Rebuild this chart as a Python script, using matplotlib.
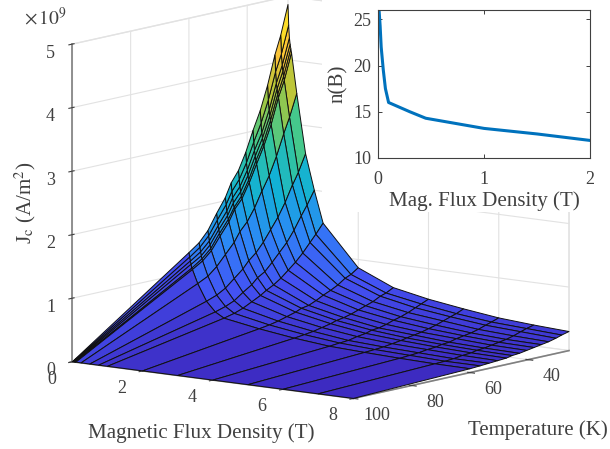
import numpy as np
import matplotlib
matplotlib.use('Agg')
import matplotlib.pyplot as plt
from matplotlib.colors import LinearSegmentedColormap, Normalize
from matplotlib.patches import Rectangle

plt.rcParams['font.family'] = ['Liberation Serif', 'DejaVu Serif']
plt.rcParams['mathtext.fontset'] = 'stix'

# field and temperature grid of the surface
mag_field = [0, 0.02, 0.04, 0.06, 0.08, 0.1, 0.25, 0.5, 0.75, 1, 2, 3, 4, 5, 6, 7, 8]
temperature = [26, 28.5, 30.5, 33, 35.5, 38, 40.5, 43, 45.5, 47.5, 50.5, 53.5, 56.5, 60, 100]
field_ticks = [0, 2, 4, 6, 8]
temp_ticks = [40, 60, 80, 100]
jc_ticks = [0, 1, 2, 3, 4, 5]

# Jc in units of 1e9 A/m2, one row per temperature
jc_t26 = [4.87, 4.55, 4.35, 4.25, 4.18, 4.12, 3.49, 2.56, 2.00, 1.50, .87, .63, .52, .44, .37, .33, .30]
jc_t28 = [4.41, 4.12, 3.94, 3.85, 3.77, 3.71, 3.14, 2.29, 1.79, 1.35, .79, .57, .47, .39, .33, .30, .27]
jc_t30 = [4.12, 3.86, 3.68, 3.59, 3.51, 3.46, 2.90, 2.11, 1.64, 1.24, .75, .54, .43, .36, .30, .27, .24]
jc_t33 = [3.67, 3.44, 3.28, 3.19, 3.12, 3.06, 2.57, 1.86, 1.44, 1.10, .67, .48, .38, .32, .26, .23, .21]
jc_t35 = [3.30, 3.10, 2.95, 2.87, 2.79, 2.75, 2.29, 1.65, 1.27, .98, .61, .44, .34, .28, .23, .20, .19]
jc_t38 = [3.01, 2.83, 2.70, 2.61, 2.54, 2.49, 2.07, 1.48, 1.14, .88, .56, .40, .31, .25, .21, .18, .17]
jc_t40 = [2.69, 2.53, 2.41, 2.33, 2.26, 2.22, 1.83, 1.31, 1.01, .78, .50, .36, .27, .22, .19, .16, .15]
jc_t43 = [2.43, 2.29, 2.18, 2.10, 2.03, 1.99, 1.64, 1.17, .89, .70, .45, .33, .24, .20, .16, .14, .13]
jc_t45 = [2.26, 2.13, 2.03, 1.95, 1.88, 1.85, 1.51, 1.07, .82, .64, .43, .31, .23, .18, .15, .13, .12]
jc_t47 = [2.05, 1.94, 1.84, 1.77, 1.71, 1.67, 1.36, .96, .73, .58, .39, .28, .20, .16, .13, .11, .10]
jc_t50 = [1.83, 1.73, 1.64, 1.58, 1.52, 1.48, 1.20, .84, .64, .51, .35, .25, .18, .14, .12, .10, .09]
jc_t53 = [1.59, 1.51, 1.43, 1.37, 1.31, 1.28, 1.04, .72, .54, .44, .31, .22, .15, .12, .10, .08, .08]
jc_t56 = [1.43, 1.36, 1.29, 1.23, 1.18, 1.15, .92, .64, .48, .39, .28, .20, .14, .11, .09, .07, .07]
jc_t60 = [1.31, 1.24, 1.18, 1.13, 1.07, 1.05, .84, .58, .43, .35, .255, .18, .125, .10, .08, .065, .06]
jc_t100 = [0] * 17

# inset curve
inset_b = [0.01, 0.02, 0.03, 0.05, 0.07, 0.1, 0.2, 0.3, 0.45, 0.6, 1.0, 1.5, 2.0]
inset_n = [26, 24.3, 22, 19.5, 17.5, 16, 15.5, 15, 14.3, 14, 13.2, 12.6, 11.9]

parula_colors = ['#3d2ac0', '#4352f4', '#2d87f7', '#12b1d6', '#37c897', '#abc739', '#fec338', '#f9fb15']
parula = LinearSegmentedColormap.from_list('parula', parula_colors)

text_color = '#404040'
W, H = 610, 449

fig = plt.figure(figsize=(6.10, 4.49), dpi=100)
fig.patch.set_facecolor('white')

# main axes run off the top of the figure, like the cropped original
# temperature sits on mplot3d's x axis so that the z axis lands on the left
ax = fig.add_axes([0.0389, -0.1009, 0.948, 1.288], projection='3d', proj_type='ortho')
ax.set_box_aspect((1, 1, 0.91))
ax.view_init(elev=9.8, azim=37.5)

X, Y = np.meshgrid(temperature, mag_field)
Z = np.array([jc_t26, jc_t28, jc_t30, jc_t33, jc_t35, jc_t38, jc_t40, jc_t43,
              jc_t45, jc_t47, jc_t50, jc_t53, jc_t56, jc_t60, jc_t100]).T
ax.plot_surface(X, Y, Z, rstride=1, cstride=1, cmap=parula, norm=Normalize(0, 4.87),
                edgecolor='#101010', linewidth=0.7, antialiased=True)

ax.set_xlim(26, 100)
ax.set_ylim(0, 8)
ax.set_zlim(0, 5)
ax.set_xticks(temp_ticks)
ax.set_yticks(field_ticks)
ax.set_zticks(jc_ticks)
ax.xaxis.set_tick_params(label1On=False)
ax.yaxis.set_tick_params(label1On=False)
ax.tick_params(axis='both', labelsize=13, colors=text_color)
ax.tick_params(axis='z', pad=1.5)

for axis in (ax.xaxis, ax.yaxis, ax.zaxis):
    axis.set_pane_color((1, 1, 1, 1))
    axis.pane.set_edgecolor('#e4e4e4')
    axis.line.set_color('#808080')
    axis.line.set_linewidth(1.2)
    axis._axinfo['grid']['color'] = '#e2e2e2'
    axis._axinfo['grid']['linewidth'] = 0.8
    axis._axinfo['tick']['color'] = '#606060'

# mplot3d pushes its tick labels mostly straight down, so these two go in by hand
for b in field_ticks:
    ax.text(107.2, b, -0.2, str(b), fontsize=13, color=text_color, ha='center', va='center')
for t in temp_ticks:
    ax.text(t, 8.66, -0.215, str(t), fontsize=13, color=text_color, ha='center', va='center')

# white block behind the inset hides the wall grid
fig.add_artist(Rectangle((322 / W, 1 - 212 / H), (W - 322) / W, 212 / H, transform=fig.transFigure,
                         facecolor='white', edgecolor='none', zorder=1))

fig.text(88 / W, 1 - 433 / H, 'Magnetic Flux Density (T)', fontsize=15.1, color=text_color, va='center', zorder=3)
fig.text(468 / W, 1 - 430 / H, 'Temperature (K)', fontsize=15, color=text_color, va='center', zorder=3)
fig.text(25 / W, 1 - 203 / H, r'J$_{\mathrm{c}}$ (A/m$^{2}$)', fontsize=15.1, color=text_color,
         rotation=90, ha='center', va='center', zorder=3)
fig.text(24 / W, 1 - 18 / H, r'$\times\,10^{9}$', fontsize=14, color=text_color, va='center', zorder=3)

# inset
ins = fig.add_axes([378 / W, 1 - 158 / H, 212 / W, 148 / H], zorder=4)
ins.plot(inset_b, inset_n, color='#0072BD', linewidth=2.2)
ins.set_xlim(0, 2)
ins.set_ylim(10, 26)
ins.set_xticks([0, 1, 2])
ins.set_yticks([10, 15, 20, 25])
ins.tick_params(direction='in', top=True, right=True, labelsize=13, labelcolor=text_color,
                color='#404040', length=3, width=0.7)
ins.tick_params(axis='x', pad=9.5)
ins.tick_params(axis='y', pad=5)
for spine in ins.spines.values():
    spine.set_color('#404040')
    spine.set_linewidth(0.8)
ins.set_xlabel('Mag. Flux Density (T)', fontsize=15.1, color=text_color, labelpad=2)
ins.set_ylabel('n(B)', fontsize=15.1, color=text_color)
ins.yaxis.set_label_coords(-0.14, 0.5)

fig.savefig('out.png', dpi=100)
